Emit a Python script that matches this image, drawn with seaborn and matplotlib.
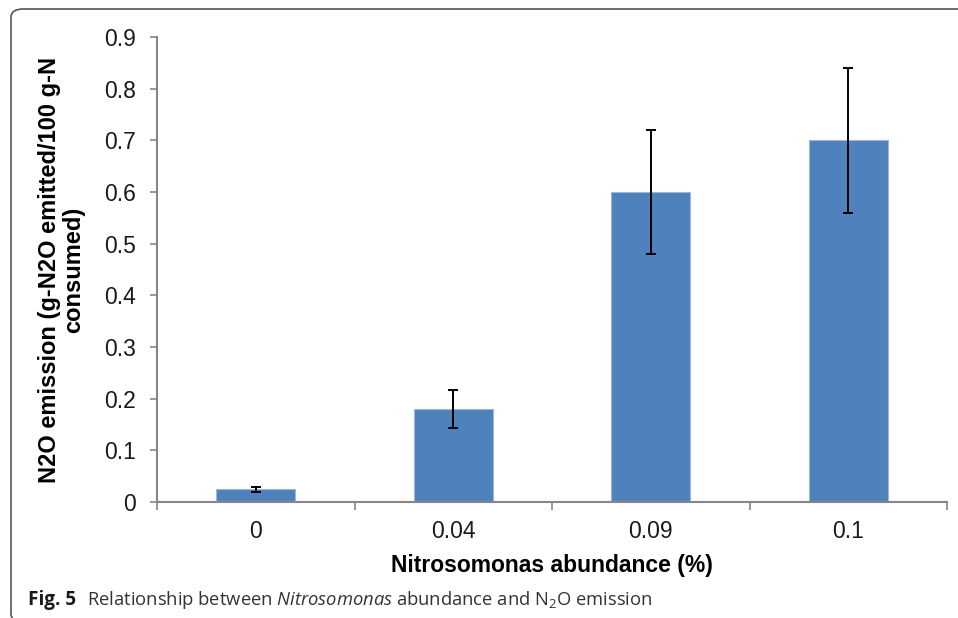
import matplotlib
matplotlib.use("Agg")
import matplotlib.pyplot as plt
from matplotlib.patches import FancyBboxPatch
import seaborn as sns
import pandas as pd

categories = ["0", "0.04", "0.09", "0.1"]
values = [0.025, 0.18, 0.60, 0.70]
errors = [0.005, 0.036, 0.12, 0.14]
yticks = [0, 0.1, 0.2, 0.3, 0.4, 0.5, 0.6, 0.7, 0.8, 0.9]
ytick_labels = ["0", "0.1", "0.2", "0.3", "0.4", "0.5", "0.6", "0.7", "0.8", "0.9"]

sns.set_theme(style="white")
plt.rcParams['font.family'] = ['Liberation Sans', 'DejaVu Sans']
plt.rcParams['mathtext.fontset'] = 'custom'
plt.rcParams['mathtext.rm'] = 'Open Sans'
plt.rcParams['mathtext.it'] = 'Open Sans:italic'
plt.rcParams['mathtext.bf'] = 'Open Sans:bold'

W, H = 958, 618
fig = plt.figure(figsize=(W / 100, H / 100), dpi=100)
ax = fig.add_axes([157 / W, 1 - 502 / H, (947 - 157) / W, (502 - 37) / H])

df = pd.DataFrame({"x": categories, "y": values})
sns.barplot(data=df, x="x", y="y", ax=ax, color="#4F81BD", saturation=1,
            width=0.4, edgecolor="#9DB7DB", linewidth=0.8, errorbar=None)
ax.errorbar(range(len(categories)), values, yerr=errors, fmt="none",
            ecolor="black", elinewidth=1.4, capsize=3.6, capthick=1.4)

ax.set_ylim(0, 0.9)
ax.set_xlim(-0.5, len(categories) - 0.5)
ax.set_yticks(yticks)
ax.set_yticklabels(ytick_labels)
ax.set_xticks(range(len(categories)))
ax.set_xticklabels(categories)
ax.tick_params(axis="both", labelsize=16.5, labelcolor="#1a1a1a")
ax.tick_params(axis="x", which="major", length=0, pad=13, bottom=True)
ax.tick_params(axis="y", which="major", left=True, length=5, width=1.2,
               color="#868686", direction="out", pad=10)

# x tick marks at category boundaries
ax.set_xticks([i - 0.5 for i in range(len(categories) + 1)], minor=True)
ax.tick_params(axis="x", which="minor", bottom=True, length=6, width=1.2,
               color="#868686", direction="out")

for s in ["top", "right"]:
    ax.spines[s].set_visible(False)
for s in ["left", "bottom"]:
    ax.spines[s].set_color("#868686")
    ax.spines[s].set_linewidth(1.5)

ax.set_xlabel("Nitrosomonas abundance (%)", fontsize=16.5, fontweight="bold",
              color="black", labelpad=8)
ax.set_ylabel("N2O emission (g-N2O emitted/100 g-N\nconsumed)", fontsize=17,
              fontweight="bold", color="black", labelpad=14, linespacing=1.05)

# caption
fig.text(28 / W, 1 - 600 / H, "Fig. 5", fontsize=13.6, fontweight="bold",
         family=["Open Sans", "DejaVu Sans"], color="#1a1a1a", va="center")
fig.text(87 / W, 1 - 600 / H,
         r"Relationship between $\it{Nitrosomonas}$ abundance and N$_2$O emission",
         fontsize=13.2, family=["Open Sans", "DejaVu Sans"], color="#333333", va="center")

# frame
frame = FancyBboxPatch((11 / W, 1 - 622 / H), (W + 20 - 11) / W, (622 - 9) / H,
                       boxstyle="round,pad=0,rounding_size=0.013",
                       transform=fig.transFigure, fill=False,
                       edgecolor="#555555", linewidth=1.2, clip_on=False)
fig.patches.append(frame)

fig.savefig("out.png", dpi=100)
